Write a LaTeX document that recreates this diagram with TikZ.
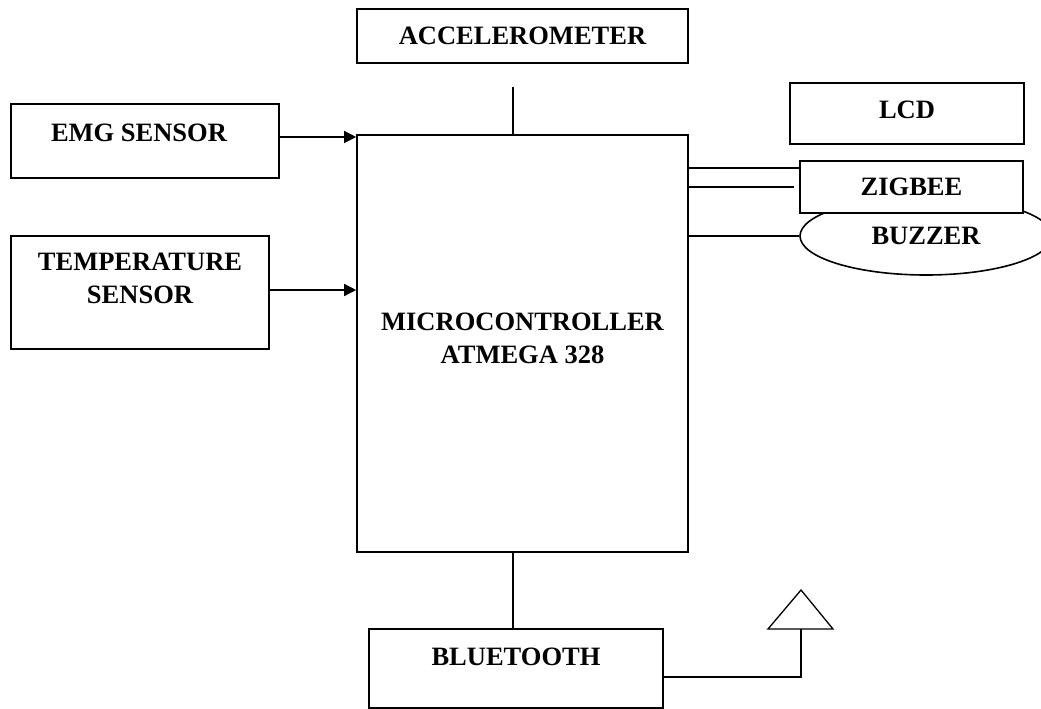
\documentclass[tikz,border=0pt]{standalone}
\usepackage{fontspec}
\setmainfont{Liberation Serif}
\usetikzlibrary{positioning,arrows.meta,shapes.geometric}

\tikzset{
  blk/.style={draw, line width=1.6pt, fill=white, inner sep=0pt},
  lbl/.style={font=\fontsize{26.5}{33}\selectfont\bfseries, align=center},
  wire/.style={line width=1.3pt},
  arr/.style={wire, -{Triangle[length=12pt,width=12pt]}}
}

\begin{document}
\begin{tikzpicture}[x=1pt,y=-1pt]
                \useasboundingbox (0,0) rectangle (1041,709);

                % controller
                \node[blk, minimum width=331pt, minimum height=417pt,
                label={[lbl,yshift=5pt]center:MICROCONTROLLER\\ATMEGA 328}] (mcu) at (522.5,343.5) {};

                % inputs
                \node[blk, minimum width=331pt, minimum height=54pt,
                label={[lbl]center:ACCELEROMETER}] (acc) at (522.5,36) {};
                \node[blk, minimum width=268pt, minimum height=74pt,
                label={[lbl,xshift=-6pt,yshift=8pt]center:EMG SENSOR}] (emg) at (145,141) {};
                \node[blk, minimum width=258pt, minimum height=113pt,
                label={[lbl,yshift=14pt]center:TEMPERATURE\\SENSOR}] (temp) at (140,292.5) {};

                % outputs
                \node[blk, minimum width=234pt, minimum height=61pt,
                label={[lbl,yshift=3.5pt]center:LCD}] (lcd) at (907,113.5) {};
                \node[blk, ellipse, minimum width=252pt, minimum height=78pt,
                label={[lbl]center:BUZZER}] (buz) at (926,236) {};
                \node[blk, minimum width=223pt, minimum height=52pt,
                label={[lbl]center:ZIGBEE}] (zig) at (911.5,187) {};
                \node[blk, minimum width=294pt, minimum height=79pt,
                label={[lbl,yshift=11.5pt]center:BLUETOOTH}] (bt) at (516,668.5) {};

                % links
                \coordinate (acctop) at ([xshift=-9.5pt]mcu.north);
                \draw[wire] (acctop) -- ++(0,-47);
                \draw[arr] ([yshift=4pt]emg.east) -- ([yshift=4pt]emg.east -| mcu.west);
                \draw[arr] ([yshift=2.5pt]temp.east) -- ([yshift=2.5pt]temp.east -| mcu.west);

                \draw[wire] ([yshift=19pt]zig.west -| mcu.east) -- ([yshift=19pt]zig.west);
                \draw[wire] (zig.west -| mcu.east) -- ++(105,0);
                \draw[wire] (buz.west -| mcu.east) -- (buz.west);

                \draw[wire] ([xshift=-9.5pt]mcu.south) -- ([xshift=-9.5pt]mcu.south |- bt.north);

                % antenna
                \coordinate (ant) at (801,629);
                \draw[wire] ([yshift=-8.5pt]bt.east) -| (ant);
                \draw[wire] (ant) -- ++(-33,0) -- ++(33,-39) -- ++(32,39) -- cycle;

            \end{tikzpicture}
\end{document}
